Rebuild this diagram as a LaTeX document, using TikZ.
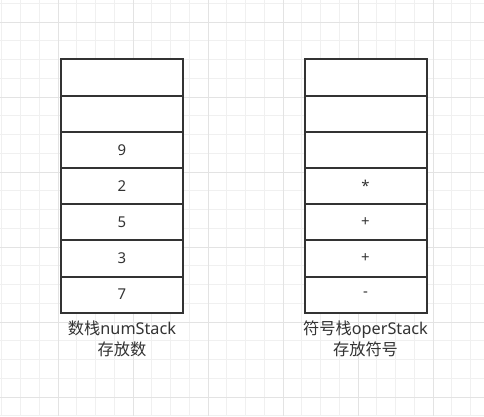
\documentclass[tikz,border=0pt]{standalone}
\usepackage{fontspec}
\setmainfont{Noto Sans}
\newfontfamily\cjk{Noto Sans CJK SC}
\usetikzlibrary{positioning}
\definecolor{gridminor}{HTML}{F0F0F0}
\definecolor{gridmajor}{HTML}{E3E3E3}
\definecolor{inkgray}{HTML}{333333}
\newlength{\cellwidth}
\setlength{\cellwidth}{122bp}
\newlength{\cellheight}
\setlength{\cellheight}{36.2bp}
\tikzset{
  cellnode/.style={draw=inkgray, line width=2bp, fill=white,
    minimum width=\cellwidth, minimum height=\cellheight,
    inner sep=0pt, outer sep=0pt, text=inkgray,
    font=\fontsize{15pt}{18pt}\selectfont},
  stacklabel/.style={align=center, inner sep=0pt, text=inkgray,
    font=\fontsize{16.3pt}{21pt}\selectfont}
}

\begin{document}
\begin{tikzpicture}[x=1bp,y=-1bp]
  \useasboundingbox (0,0) rectangle (484,416);
  \fill[white] (0,0) rectangle (484,416);
  % grid
  \foreach \x in {1.75,20.5,...,484}
    \draw[gridminor, line width=1bp] (\x,0) -- (\x,416);
  \foreach \y in {3.25,22,...,416}
    \draw[gridminor, line width=1bp] (0,\y) -- (484,\y);
  \foreach \x in {58,133,...,484}
    \draw[gridmajor, line width=1bp] (\x,0) -- (\x,416);
  \foreach \y in {22,97,...,416}
    \draw[gridmajor, line width=1bp] (0,\y) -- (484,\y);

  % number stack
  \node[cellnode] (num1) at (122,77.4) {};
  \foreach \t [count=\i from 2, evaluate=\i as \j using int(\i-1)] in {{},9,2,5,3,7}
    \node[cellnode, below=0pt of num\j] (num\i) {\t};
  % operator stack
  \node[cellnode] (oper1) at (365.5,77.4) {};
  \foreach \t [count=\i from 2, evaluate=\i as \j using int(\i-1)] in {{},{},*,+,+,-}
    \node[cellnode, below=0pt of oper\j] (oper\i) {\t};

  \node[stacklabel, below=8bp of num7] (numlabel) {{\cjk 数栈}numStack\\{\cjk 存放数}};
  \node[stacklabel, below=8bp of oper7] (operlabel) {{\cjk 符号栈}operStack\\{\cjk 存放符号}};
\end{tikzpicture}
\end{document}
